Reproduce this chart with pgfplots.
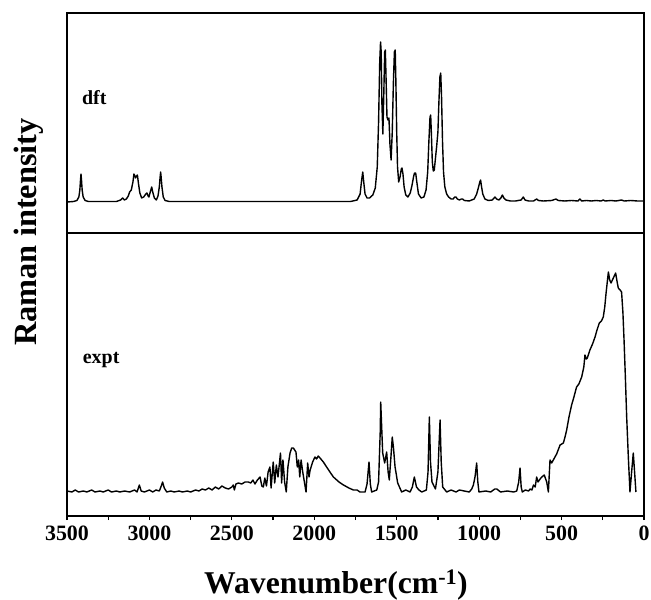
\documentclass[border=0pt]{standalone}
\usepackage{pgfplots}
\pgfplotsset{compat=1.18}
\usepackage{fontspec}
\setmainfont{Liberation Serif}
\begin{document}
\begin{tikzpicture}
\useasboundingbox (-67bp,-84bp) rectangle (584bp,516bp);
\pgfplotsset{
  common/.style={
    scale only axis, width=577bp, xmin=0, xmax=3500, x dir=reverse,
    axis line style={line width=1.5bp}, ytick=\empty,
  },
  spec/.style={black, line width=1.4bp, mark=none, line join=round},
}
% bottom panel (expt)
\begin{axis}[common, at={(0,0)}, anchor=south west, height=283bp,
  ymin=-24, ymax=259,
  xtick={0,500,...,3500}, minor x tick num=1, xtick pos=bottom, tick align=outside,
  major tick length=4bp, minor tick length=4bp,
  every tick/.style={black, line width=1.2bp},
  /pgf/number format/1000 sep={}, /pgf/number format/assume math mode=true,
  xticklabel style={font=\bfseries\fontsize{22}{22}\selectfont, yshift=-2bp},
]
\addplot[spec] table {
3500 1
3470 0
3450 2
3430 0
3400 1
3380 0
3350 2
3330 0
3300 1
3280 0
3250 2
3230 0
3200 1
3180 0
3150 1
3120 0
3090 2
3075 0
3061 7
3050 1
3030 0
3000 2
2980 0
2960 2
2940 1
2928 6
2920 10
2910 4
2895 0
2870 1
2850 0
2820 1
2800 0
2770 1
2750 0
2720 2
2700 1
2680 3
2660 2
2640 4
2620 2
2600 5
2580 3
2560 6
2540 4
2520 3
2500 5
2491 7
2485 2
2475 8
2460 9
2440 8
2420 10
2400 10
2385 9
2372 12
2360 8
2345 12
2329 15
2318 6
2309 5
2300 14
2290 6
2280 20
2269 25
2262 4
2249 30
2240 9
2230 27
2220 15
2205 39
2198 9
2190 32
2180 10
2170 0
2160 25
2147 39
2137 44
2127 44
2111 40
2103 25
2095 32
2088 15
2080 32
2070 20
2060 10
2050 0
2040 29
2032 15
2025 22
2010 30
1996 35
1986 33
1976 36
1960 33
1945 30
1925 25
1905 20
1884 15
1850 10
1823 7
1790 4
1763 2
1740 2
1723 0
1692 0
1680 8
1668 30
1660 8
1652 0
1621 2
1610 10
1600 60
1597 90
1590 60
1585 39
1573 29
1561 40
1552 20
1545 12
1535 35
1527 55
1520 45
1510 25
1494 9
1470 0
1445 2
1419 0
1405 5
1393 15
1380 5
1365 2
1348 0
1320 2
1310 20
1302 75
1295 30
1286 10
1265 3
1250 20
1237 72
1230 30
1221 5
1197 0
1170 2
1140 0
1120 2
1090 1
1060 0
1045 3
1035 7
1025 15
1015 29
1008 10
1001 0
960 1
930 0
905 3
893 3
870 0
830 1
790 0
772 1
760 10
752 24
745 5
738 0
720 2
700 1
691 3
680 2
670 7
660 5
651 15
643 10
630 13
620 15
605 17
590 10
580 0
570 32
560 29
550 32
530 38
509 47
489 49
479 55
469 62
455 75
439 87
425 95
409 105
395 108
378 115
365 125
358 137
350 133
344 134
328 142
312 148
297 155
285 162
271 169
258 171
247 175
238 185
230 199
216 220
208 212
200 209
186 214
172 219
165 212
156 204
145 202
136 200
128 180
121 152
113 115
105 75
95 35
85 0
75 20
65 39
57 20
49 0
};
\node[anchor=west, font=\bfseries\fontsize{20}{20}\selectfont] at (axis cs:3425,132) {expt};
\end{axis}
% top panel (dft)
\begin{axis}[common, at={(0,283bp)}, anchor=south west, height=220bp,
  ymin=-31, ymax=189, xtick=\empty,
]
\addplot[spec] table {
3500 0
3460 0.5
3440 1.5
3428 5
3422 12
3418 22
3415 28
3412 22
3408 12
3402 5
3390 1.5
3370 0.5
3200 0.5
3175 2
3162 4
3152 2
3140 3
3128 6
3120 10
3110 12
3100 20
3094 28
3088 26
3084 24
3078 26
3073 27
3066 18
3058 9
3047 4
3035 5
3022 8
3015 9
3008 6
3003 5
2995 10
2986 15
2980 10
2970 4
2958 2
2948 6
2940 15
2935 25
2932 30
2929 25
2924 15
2916 5
2905 1.5
2880 0.5
1780 0.5
1740 2
1722 8
1714 20
1706 30
1700 20
1692 8
1680 4
1665 4
1645 7
1630 14
1618 35
1610 80
1603 140
1598 160
1594 150
1590 100
1584 68
1578 110
1573 150
1569 152
1564 120
1559 85
1553 82
1547 84
1541 58
1534 42
1527 70
1520 120
1514 150
1509 152
1505 120
1500 70
1495 35
1488 20
1480 25
1472 33
1468 34
1462 28
1455 15
1445 7
1432 5
1418 9
1408 16
1398 25
1392 29
1385 29
1378 20
1368 8
1352 4
1335 5
1322 12
1312 30
1305 60
1298 85
1294 87
1290 70
1284 40
1278 31
1272 32
1266 42
1258 55
1250 70
1244 100
1238 125
1233 129
1228 105
1222 60
1216 30
1208 15
1197 8
1185 5
1170 3
1158 3
1148 5
1141 5
1132 3
1120 2
1108 3
1100 3
1090 1.5
1060 1
1030 3
1015 8
1005 14
996 20
991 22
986 16
978 8
965 3
945 1.5
920 2
904 5
894 3
880 2
868 4
859 7
850 4
838 2
810 1
780 1
745 2
732 5
722 2
700 1
670 1
651 3
640 1.5
610 1
560 1.5
534 3
520 1.5
480 1
440 1.5
400 1
389 3
378 1
350 1.5
320 1
290 1.5
260 1
247 2
236 1
200 1.5
170 1
136 2
120 1
80 1.5
40 1
0 1
};
\node[anchor=west, font=\bfseries\fontsize{20}{20}\selectfont] at (axis cs:3430,104) {dft};
\end{axis}
\node[rotate=90, font=\bfseries\fontsize{32.5}{32.5}\selectfont] at (-38bp,284bp) {Raman intensity};
\node[font=\bfseries\fontsize{31.8}{31.8}\selectfont] at (269bp,-69bp) {Wavenumber(cm\textsuperscript{-1})};
\end{tikzpicture}
\end{document}
